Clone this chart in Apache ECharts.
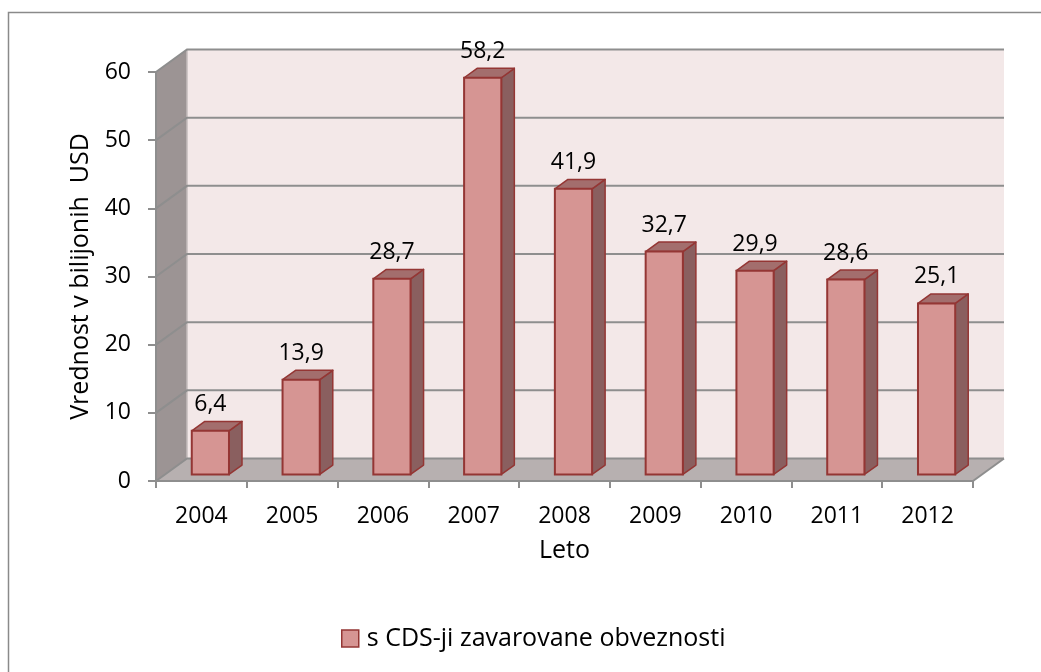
<!DOCTYPE html>
<html>
<head>
<meta charset="utf-8">
<script src="https://cdn.jsdelivr.net/npm/echarts@6/dist/echarts.min.js"></script>
<style>
  html, body { margin: 0; padding: 0; background: #ffffff; }
  #chart { width: 1041px; height: 672px; }
</style>
</head>
<body>
<div id="chart"></div>
<script>
// Years on the category axis
const years = ['2004', '2005', '2006', '2007', '2008', '2009', '2010', '2011', '2012'];
// Insured obligations, trillions USD
const values = [6.4, 13.9, 28.7, 58.2, 41.9, 32.7, 29.9, 28.6, 25.1];
// Value-axis tick values
const yTicks = [0, 10, 20, 30, 40, 50, 60];

const seriesName = 's CDS-ji zavarovane obveznosti';
const FONT = '"Open Sans", "Noto Sans", sans-serif';

// Perspective offset of the back wall relative to the front plane (px)
const DX = 31;
const DY = -22.5;
// Bar sits between these depth fractions of the floor
const BAR_FRONT = 0.29;
const BAR_BACK = 0.71;
const BAR_WIDTH = 0.41; // share of a category band

const fmt = v => String(v).replace('.', ',');

const chart = echarts.init(document.getElementById('chart'), null, { renderer: 'canvas' });

function renderWalls(params, api) {
  const cs = params.coordSys;
  const L = cs.x, R = cs.x + cs.width, T = cs.y, B = cs.y + cs.height;
  const children = [
    { type: 'polygon', shape: { points: [[L, T], [L + DX, T + DY], [L + DX, B + DY], [L, B]] },
      style: { fill: '#9c9494' } },
    { type: 'polygon', shape: { points: [[L + DX, T + DY], [R + DX, T + DY], [R + DX, B + DY], [L + DX, B + DY]] },
      style: { fill: '#f3e8e8' } },
    { type: 'polygon', shape: { points: [[L, B], [R, B], [R + DX, B + DY], [L + DX, B + DY]] },
      style: { fill: '#b7b0b0' } },
    { type: 'line', shape: { x1: L + DX, y1: T + DY, x2: L + DX, y2: B + DY },
      style: { stroke: '#c4bcbc', lineWidth: 1.5 } },
    { type: 'line', shape: { x1: R, y1: B, x2: R + DX, y2: B + DY },
      style: { stroke: '#8e8e8e', lineWidth: 2 } }
  ];
  yTicks.forEach(t => {
    const yy = api.coord([0, t])[1];
    children.push({
      type: 'polyline',
      shape: { points: [[L, yy], [L + DX, yy + DY], [R + DX, yy + DY]] },
      style: { stroke: '#8e8e8e', lineWidth: 2, fill: null }
    });
  });
  return { type: 'group', children };
}

function renderBar(params, api) {
  const idx = api.value(0);
  const val = api.value(1);
  const top = api.coord([idx, val]);
  const base = api.coord([idx, 0]);
  const band = api.size([1, 0])[0];
  const w = band * BAR_WIDTH;
  const fx = top[0] + BAR_FRONT * DX;
  const x0 = fx - w / 2, x1 = fx + w / 2;
  const yt = top[1] + BAR_FRONT * DY;
  const yb = base[1] + BAR_FRONT * DY;
  const bdx = (BAR_BACK - BAR_FRONT) * DX;
  const bdy = (BAR_BACK - BAR_FRONT) * DY;
  const stroke = '#943634';
  return {
    type: 'group',
    children: [
      { type: 'polygon', shape: { points: [[x1, yt], [x1 + bdx, yt + bdy], [x1 + bdx, yb + bdy], [x1, yb]] },
        style: { fill: '#8a5f5f', stroke, lineWidth: 1.5, lineJoin: 'round' } },
      { type: 'polygon', shape: { points: [[x0, yt], [x0 + bdx, yt + bdy], [x1 + bdx, yt + bdy], [x1, yt]] },
        style: { fill: '#a36e6d', stroke, lineWidth: 1.5, lineJoin: 'round' } },
      { type: 'rect', shape: { x: x0, y: yt, width: w, height: yb - yt },
        style: { fill: '#d69593', stroke, lineWidth: 2 } },
      { type: 'text',
        style: { text: fmt(val), x: fx, y: yt + bdy - 17, align: 'center', verticalAlign: 'middle',
                 fontSize: 23, fontFamily: FONT, fill: '#000000' } }
    ]
  };
}

chart.setOption({
  animation: false,
  backgroundColor: '#ffffff',
  textStyle: { fontFamily: FONT },
  graphic: [{
    type: 'rect', z: -10, silent: true,
    shape: { x: 8.5, y: 12.5, width: 1080, height: 720 },
    style: { fill: '#ffffff', stroke: '#8a8a8a', lineWidth: 1.5 }
  }],
  grid: { left: 156, right: 68, top: 72, bottom: 191, containLabel: false },
  legend: {
    left: 341, top: 626, padding: 0,
    itemWidth: 17, itemHeight: 17, icon: 'rect',
    textStyle: { fontSize: 25, fontFamily: FONT, color: '#000000', padding: [0, 0, 0, 3] },
    data: [{ name: seriesName, itemStyle: { color: '#d69593', borderColor: '#943634', borderWidth: 1.5 } }]
  },
  xAxis: {
    type: 'category', data: years, boundaryGap: true, z: 5,
    name: 'Leto', nameLocation: 'middle', nameGap: 57,
    nameTextStyle: { fontSize: 25, fontFamily: FONT, color: '#000000' },
    axisLine: { show: true, lineStyle: { color: '#8e8e8e', width: 2 } },
    axisTick: { show: true, alignWithLabel: false, length: 7, lineStyle: { color: '#8e8e8e', width: 2 } },
    axisLabel: { fontSize: 23, fontFamily: FONT, color: '#000000', margin: 24 },
    splitLine: { show: false }
  },
  yAxis: {
    type: 'value', min: 0, max: 60, interval: 10, z: 5,
    name: 'Vrednost v bilijonih  USD', nameLocation: 'middle', nameGap: 58, nameRotate: 90,
    nameTextStyle: { fontSize: 25, fontFamily: FONT, color: '#000000' },
    axisLine: { show: true, lineStyle: { color: '#8e8e8e', width: 2 } },
    axisTick: { show: true, length: 8, lineStyle: { color: '#8e8e8e', width: 2 } },
    axisLabel: { fontSize: 23, fontFamily: FONT, color: '#000000', margin: 25 },
    splitLine: { show: false }
  },
  series: [
    {
      type: 'custom', z: 1, silent: true, clip: false,
      data: [[0, 0]],
      renderItem: renderWalls
    },
    {
      name: seriesName,
      type: 'custom', z: 2, clip: false,
      itemStyle: { color: '#d69593', borderColor: '#943634', borderWidth: 1.5 },
      data: values.map((v, i) => [i, v]),
      encode: { x: 0, y: 1 },
      renderItem: renderBar
    }
  ]
});
</script>
</body>
</html>
